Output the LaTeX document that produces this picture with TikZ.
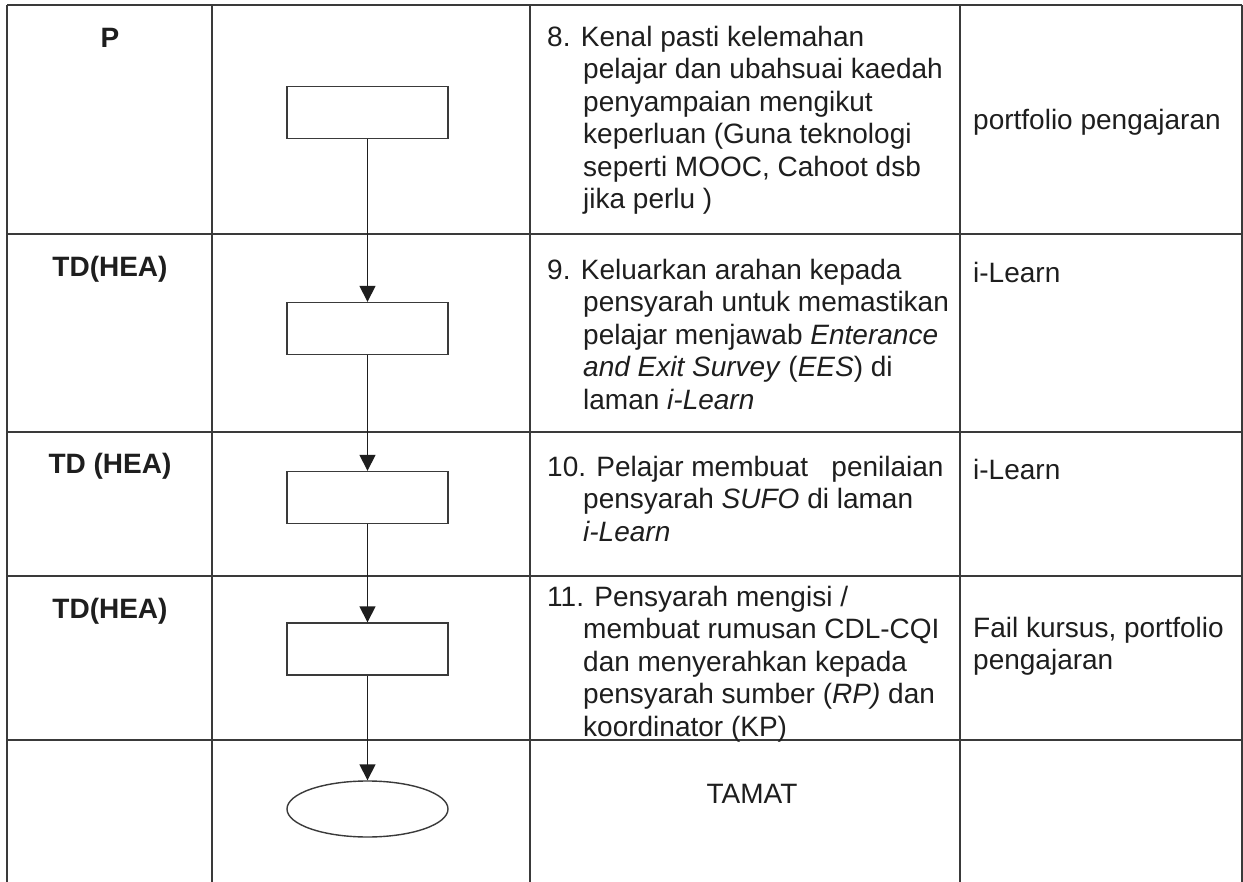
\documentclass[tikz,border=0pt]{standalone}
\usepackage{fontspec}
\setmainfont{Liberation Sans}
\usepackage{tikz}
\usetikzlibrary{arrows.meta,shapes.geometric}
\definecolor{scanline}{HTML}{3A3A3A}
\definecolor{scantext}{HTML}{1E1E1E}
\newcommand{\hng}{\hspace*{36pt}}

\begin{document}
\begin{tikzpicture}[x=1pt,y=-1pt,
        grid/.style={draw=scanline,line width=1.3pt},
        who/.style={font=\fontsize{28}{32.5}\selectfont\bfseries,text=scantext,anchor=base,inner sep=0pt},
        txt/.style={font=\fontsize{28}{32.5}\selectfont,text=scantext,anchor=north west,align=left,inner sep=0pt},
        proc/.style={draw=scanline,line width=1.4pt,minimum width=161pt,minimum height=52pt,inner sep=0pt},
        stopnode/.style={ellipse,draw=scanline,line width=1.4pt,minimum width=161pt,minimum height=56pt,inner sep=0pt},
        flow/.style={draw=scantext,line width=1.6pt,-{Triangle[width=16pt,length=16pt]}}]
    \useasboundingbox (0,0) rectangle (1243,882);
    \fill[white] (0,0) rectangle (1243,882);

    % Grid
    \draw[grid] (7,5) -- (1242,5);
    \draw[grid] (7,234) -- (1242,234);
    \draw[grid] (7,432) -- (1242,432);
    \draw[grid] (7,576) -- (1242,576);
    \draw[grid] (7,740) -- (1242,740);
    \draw[grid] (7,5) -- (7,882);
    \draw[grid] (212,5) -- (212,882);
    \draw[grid] (530,5) -- (530,882);
    \draw[grid] (960,5) -- (960,882);
    \draw[grid] (1242,5) -- (1242,882);

    % Responsibility
    \node[who] (p)    at (110,48)  {P};
    \node[who] (td9)  at (110,277) {TD(HEA)};
    \node[who] (td10) at (110,474) {TD (HEA)};
    \node[who] (td11) at (110,618) {TD(HEA)};

    % Flow
    \node[proc] (b8)  at (367.5,112.5) {};
    \node[proc] (b9)  at (367.5,328.5) {};
    \node[proc] (b10) at (367.5,497.5) {};
    \node[proc] (b11) at (367.5,649)   {};
    \node[stopnode] (tamat) at (367.5,809) {};
    \draw[flow] (b8.south)  -- (b9.north);
    \draw[flow] (b9.south)  -- (b10.north);
    \draw[flow] (b10.south) -- (b11.north);
    \draw[flow] (b11.south) -- (tamat.north);

    % Steps
    \node[txt] (s8) at (547,26) {8. Kenal pasti kelemahan\\
        \hng pelajar dan ubahsuai kaedah\\
        \hng penyampaian mengikut\\
        \hng keperluan (Guna teknologi\\
        \hng seperti MOOC, Cahoot dsb\\
        \hng jika perlu )};
    \node[txt] (s9) at (547,259) {9. Keluarkan arahan kepada\\
        \hng pensyarah untuk memastikan\\
        \hng pelajar menjawab \textit{Enterance}\\
        \hng \textit{and Exit Survey} (\textit{EES}) di\\
        \hng laman \textit{i-Learn}};
    \node[txt] (s10) at (547,456) {10. Pelajar membuat \ \ penilaian\\
        \hng pensyarah \textit{SUFO} di laman\\
        \hng \textit{i-Learn}};
    \node[txt] (s11) at (547,586) {11. Pensyarah mengisi /\\
        \hng membuat rumusan CDL-CQI\\
        \hng dan menyerahkan kepada\\
        \hng pensyarah sumber (\textit{RP)} dan\\
        \hng koordinator (KP)};
    \node[txt,anchor=base] (s12) at (752,803) {TAMAT};

    % Records
    \node[txt,anchor=base west] (r8)  at (973,130) {portfolio pengajaran};
    \node[txt,anchor=base west] (r9)  at (973,283) {i-Learn};
    \node[txt,anchor=base west] (r10) at (973,480) {i-Learn};
    \node[txt] (r11) at (973,617) {Fail kursus, portfolio\\pengajaran};
\end{tikzpicture}
\end{document}
